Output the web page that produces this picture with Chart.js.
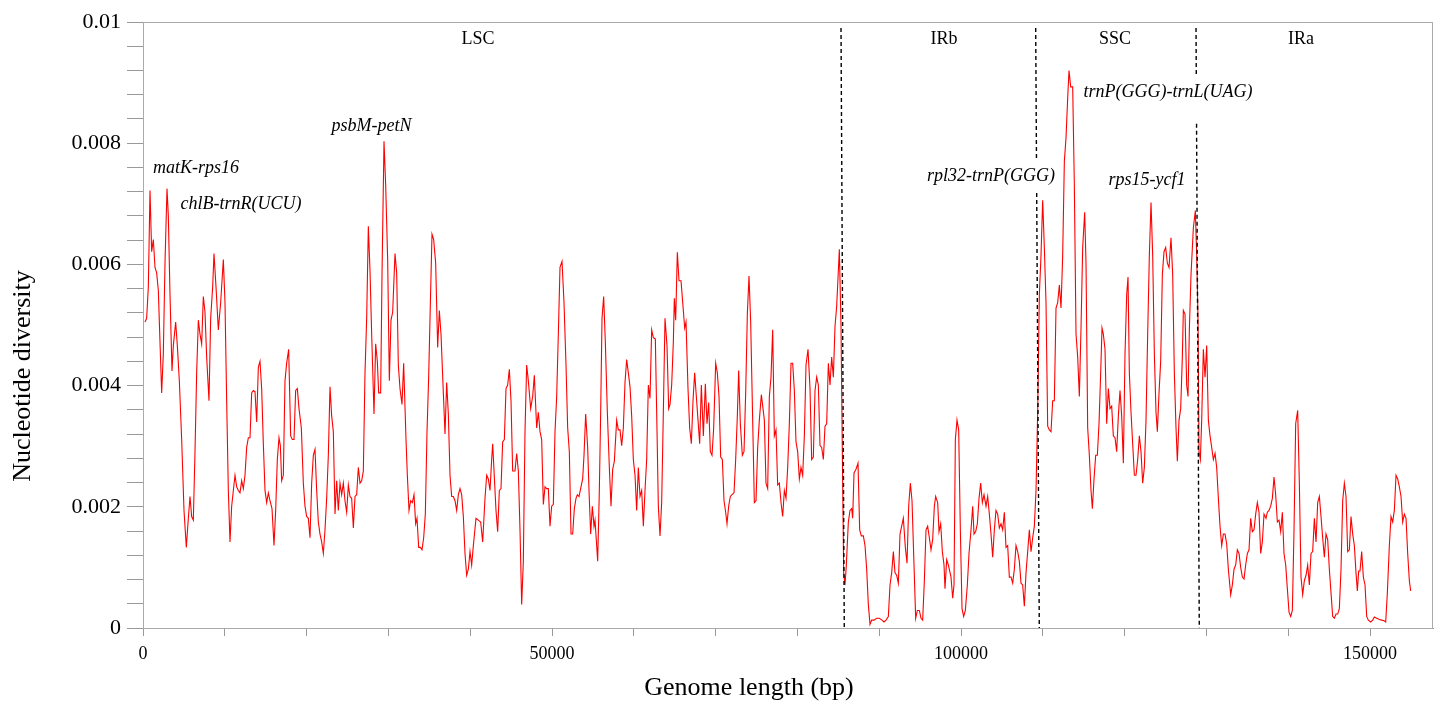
<!DOCTYPE html>
<html>
<head>
  <title>Nucleotide diversity</title>
  <style>
    body { margin: 0; background: #fff; }
    #wrap { width: 1439px; height: 702px; }
  </style>
</head>
<body>
  <div id="wrap"><canvas id="piChart" width="1439" height="702"></canvas></div>

  <script src="https://cdn.jsdelivr.net/npm/chart.js"></script>

  <script>
    // sliding window midpoints (bp)
    const positionBp = [
      244,448,652,856,1059,1263,1467,1671,1874,2078,
      2282,2486,2689,2934,3097,3301,3545,3708,3993,4197,
      4442,4727,5012,5297,5542,5746,5949,6153,6357,6561,
      6764,6968,7172,7376,7579,7783,8068,8272,8517,8680,
      8924,9209,9495,9821,10024,10228,10432,10636,10839,11043,
      11247,11451,11654,11858,12062,12266,12469,12673,12877,13081,
      13284,13488,13692,13896,14099,14303,14507,14711,14914,15118,
      15322,15526,15770,16015,16218,16422,16626,16789,16952,17156,
      17359,17563,17808,18052,18256,18460,18663,18867,19071,19356,
      19601,19804,
      20008,20212,20416,20619,20823,21027,21231,21434,21638,21842,
      22046,22249,22453,22657,22861,23064,23268,23472,23676,23879,
      24083,24287,24491,24694,24898,25102,25306,25509,25713,25917,
      26121,26324,26528,26732,26936,27139,27343,27547,27751,27954,
      28239,28443,28647,28810,29055,29218,29462,29666,29910,30114,
      30318,30522,30807,31011,31214,31418,31663,31866,32152,32315,
      32518,32722,32926,33130,33333,33496,33700,33904,34108,34311,
      34515,34719,34923,35126,35330,35534,35778,36023,36227,36430,
      36716,36919,37123,37327,37531,37734,37938,38142,38346,38549,
      38753,38957,39161,39364,
      39568,39772,39976,40179,40383,40709,40994,41280,41524,41809,
      42013,42217,42421,42624,42747,42950,43154,43358,43562,43765,
      43969,44173,44377,44580,44784,44988,45192,45477,45681,45884,
      46088,46292,46496,46699,46903,47107,47392,47637,47840,48126,
      48329,48533,48737,48941,49144,49348,49552,49756,49959,50163,
      50367,50571,50774,50978,51223,51467,51712,51915,52119,52323,
      52527,52730,52934,53097,53301,53545,53749,53912,54116,54360,
      54523,54727,54931,55135,55257,55461,55583,55787,55950,56113,
      56316,56520,56765,57009,57213,57417,57620,57906,58109,58313,
      58517,58721,58924,
      59128,59332,59536,59739,59943,60147,60351,60554,60758,60962,
      61166,61369,61573,61777,61981,62184,62388,62633,62796,62999,
      63203,63407,63611,63814,64059,64263,64426,64629,64833,64955,
      65118,65322,65526,65770,66056,66219,66382,66626,66830,67034,
      67237,67441,67645,67849,68052,68256,68501,68745,68949,69153,
      69356,69560,69764,70008,70212,70416,70620,70823,71027,71231,
      71394,71598,71801,72005,72250,72453,72657,72820,73024,73268,
      73472,73676,73880,74083,74287,74532,74735,74939,75143,75347,
      75591,75795,75958,76162,76365,76569,76773,76977,77180,77384,
      77588,77792,77995,78199,78403,
      78607,78810,79014,79218,79422,79625,79829,80033,80237,80440,
      80644,80848,81052,81296,81541,81744,81948,82152,82356,82559,
      82763,82967,83171,83374,83578,83782,83986,84189,84393,84597,
      84801,85004,85127,85330,85493,85656,85819,85982,86227,86431,
      86634,86757,86920,87164,87409,87612,87816,88061,88264,88468,
      88672,88876,89079,89364,89690,90017,90343,90587,90832,91117,
      91321,91524,91728,91932,92136,92339,92543,92747,92951,93195,
      93399,93603,93806,94010,94255,94458,94662,94907,95110,95314,
      95518,95722,95925,96129,96333,96537,96740,96903,97148,97311,
      97515,97719,97922,
      98044,98248,98452,98778,98982,99145,99308,99511,99715,99919,
      100123,100326,100530,100775,100978,101223,101427,101590,101793,101997,
      102201,102405,102608,102812,103057,103260,103464,103668,103872,104075,
      104279,104483,104687,104890,105094,105298,105502,105705,105909,106113,
      106317,106520,106724,106928,107132,107335,107539,107743,107947,108150,
      108354,108558,108762,108965,109169,109373,109577,109780,109984,110188,
      110392,110595,110799,111003,111207,111410,111614,111818,112022,112225,
      112429,112633,112837,113040,113203,113407,113652,113855,114059,114263,
      114467,114670,114874,115119,115282,115486,115689,115893,116056,116260,
      116464,116667,116871,117075,117238,117401,117604,
      117808,118012,118216,118419,118623,118827,119031,119234,119438,119642,
      119846,120049,120253,120416,120579,120783,120987,121190,121394,121598,
      121802,122005,122209,122413,122617,122820,123024,123228,123432,123635,
      123839,124002,124206,124410,124613,124817,125021,125225,125428,125673,
      125877,126080,126284,126447,126651,126855,127058,127181,127384,127588,
      127751,127914,128118,128403,128648,128811,128974,129096,129260,129423,
      129626,129830,130034,130238,130441,130645,130849,131053,131256,131460,
      131664,131868,132071,132275,132478,132682,132967,133171,133375,133578,
      133782,133986,134190,134393,134597,134801,135005,135208,135412,135616,
      135820,136023,136227,136431,136634,136838,137042,
      137287,137450,137653,137857,138061,138265,138468,138672,138876,139080,
      139283,139487,139691,139895,140098,140302,140506,140710,140913,141158,
      141362,141565,141769,141973,142177,142380,142584,142788,142992,143195,
      143399,143603,143807,144010,144214,144418,144622,144825,145029,145233,
      145437,145640,145844,146048,146252,146455,146659,146863,147067,147270,
      147474,147678,147882,148085,148289,148452,148615,148778,148982,149186,
      149389,149593,149797,150082,150327,150530,150816,151142,151427,151712,
      151916,152120,152364,152568,152772,152975,153179,153383,153587,153790,
      153994,154198,154402,154605,154809,154972
    ];

    // nucleotide diversity (Pi) in units of 0.001, same order as positionBp
    const piE3 = [
      5.05,5.11,5.63,7.22,6.21,6.41,5.95,5.86,5.57,4.72,
      3.88,4.53,6.02,7.25,6.80,5.50,4.24,4.66,5.05,4.66,
      4.08,3.11,1.94,1.33,1.81,2.17,1.84,1.78,2.91,4.21,
      5.08,4.85,4.69,5.47,5.21,4.47,3.75,5.11,5.63,6.18,
      5.63,4.92,5.37,6.08,5.37,3.75,2.27,1.42,2.01,2.27,
      2.52,2.33,2.27,2.23,2.43,2.30,2.52,2.98,3.14,3.14,
      3.88,3.92,3.90,3.40,4.30,4.40,3.95,3.04,2.27,2.07,
      2.23,2.10,1.97,1.36,1.94,2.78,3.14,3.01,2.43,2.52,
      4.08,4.37,4.60,3.17,3.11,3.11,3.92,3.95,3.62,3.30,
      2.39,2.01,
      1.84,1.81,1.49,2.39,2.85,2.95,2.27,1.75,1.55,1.42,
      1.23,1.62,2.14,2.85,3.98,3.50,3.24,1.88,2.43,1.94,
      2.39,2.20,2.39,2.10,1.91,2.36,2.17,2.14,1.65,2.17,
      2.20,2.65,2.39,2.43,2.59,4.21,5.11,6.63,5.89,4.85,
      3.53,4.69,4.40,3.88,3.88,5.83,8.03,7.31,6.08,4.08,
      5.08,5.21,6.18,5.86,4.34,3.95,3.69,4.37,3.11,2.52,
      1.94,2.10,2.07,2.20,1.72,1.81,1.33,1.33,1.29,1.49,
      1.88,3.24,4.14,5.34,6.50,6.41,6.02,4.63,5.24,4.85,
      3.88,3.20,4.05,3.53,2.52,2.17,2.17,2.10,1.94,2.20,
      2.30,2.20,1.84,1.23,
      0.87,0.97,1.26,1.04,1.36,1.81,1.78,1.75,1.42,2.14,
      2.52,2.46,2.27,2.78,3.04,2.49,1.94,1.59,2.27,2.30,
      3.07,3.11,3.95,4.01,4.27,3.75,2.59,2.59,2.88,2.59,
      1.62,0.39,1.10,3.24,4.34,4.08,3.62,3.82,4.17,3.30,
      3.56,3.24,3.11,2.04,2.33,2.30,2.30,1.68,2.01,2.04,
      3.24,3.82,4.85,5.95,6.05,5.37,4.34,3.30,2.91,1.55,
      1.55,1.97,2.14,2.20,2.17,2.33,2.46,2.85,3.53,2.98,
      2.27,1.55,2.01,1.68,1.78,1.36,1.10,2.27,3.56,5.11,
      5.47,4.72,3.56,2.65,2.01,2.62,2.75,3.43,3.27,3.27,
      3.01,3.30,4.05,
      4.43,4.21,3.98,3.50,2.78,2.52,1.94,2.65,2.17,2.27,
      1.68,2.27,2.78,4.01,3.79,4.92,4.79,4.77,3.56,2.01,
      1.52,2.07,3.56,5.11,4.66,3.62,3.69,4.01,4.72,5.44,
      5.08,6.20,5.73,5.73,5.24,4.95,5.05,3.95,3.30,3.04,
      3.75,4.21,3.82,3.43,3.04,4.01,3.17,4.03,3.37,3.72,
      2.91,2.85,3.30,4.37,4.21,3.82,2.82,2.78,2.10,1.91,
      1.72,2.01,2.17,2.20,2.23,2.78,3.50,4.25,3.37,2.85,
      2.91,3.88,5.18,5.81,5.05,3.43,2.07,2.10,2.98,3.43,
      3.85,3.62,3.43,2.39,2.30,3.82,4.14,4.92,3.17,3.27,
      2.36,2.39,2.07,1.84,2.27,
      2.14,2.65,3.37,4.37,4.37,3.92,3.07,2.91,2.46,2.65,
      2.52,3.17,4.34,4.60,3.95,2.78,2.82,3.92,4.14,4.01,
      3.01,2.98,2.78,3.33,3.37,4.37,4.01,4.47,4.14,4.98,
      5.31,5.89,6.25,4.98,2.91,0.91,0.71,1.04,1.75,1.94,
      1.97,1.81,2.56,2.62,2.72,1.62,1.52,1.52,1.36,0.97,
      0.39,0.06,0.13,0.13,0.16,0.16,0.13,0.10,0.13,0.19,
      0.71,0.91,1.26,0.91,0.87,0.74,1.55,1.68,1.81,1.33,
      1.07,2.01,2.39,2.10,1.04,0.16,0.29,0.29,0.16,0.13,
      0.78,1.62,1.68,1.49,1.29,1.46,2.01,2.17,2.07,1.59,
      1.72,1.26,1.04,
      0.65,1.13,1.04,0.84,0.49,0.71,3.11,3.43,3.27,1.62,
      0.32,0.19,0.29,0.71,1.23,1.62,2.01,1.55,1.59,1.72,
      2.14,2.39,2.07,2.20,2.01,2.17,1.88,1.55,1.17,1.62,
      1.94,1.88,1.65,1.72,1.62,1.91,1.33,1.36,0.84,0.84,
      0.74,0.97,1.36,1.26,1.10,0.74,0.71,0.36,0.91,1.26,
      1.62,1.26,1.49,1.68,2.27,3.56,5.50,6.15,7.06,6.28,
      5.37,3.33,3.27,3.24,3.75,3.75,5.28,5.37,5.66,5.28,
      6.15,7.70,8.09,8.74,9.20,8.93,8.93,7.31,4.85,4.47,
      3.82,4.95,6.28,6.86,6.02,3.30,2.85,2.27,1.97,2.46,
      2.85,2.85,3.37,4.21,4.95,4.85,4.60,
      3.37,3.95,3.62,3.66,3.17,3.14,2.91,3.50,3.92,3.50,
      2.72,4.53,5.50,5.79,4.21,3.56,3.04,2.52,2.52,2.78,
      3.17,2.91,2.39,2.65,3.43,4.85,6.15,7.02,6.15,4.53,
      3.56,3.24,3.88,4.40,5.83,6.21,6.28,6.02,5.95,6.44,
      5.83,4.21,3.30,2.75,3.43,3.62,4.47,5.24,5.18,4.01,
      3.82,4.92,5.83,6.60,6.89,6.15,5.11,2.91,2.78,3.43,
      4.60,4.14,4.66,3.43,3.17,2.98,2.78,2.88,2.65,2.14,
      1.68,1.36,1.55,1.55,1.39,0.97,0.55,0.71,0.97,1.04,
      1.29,1.23,1.00,0.84,0.81,1.04,1.23,1.29,1.81,1.59,
      1.62,1.88,2.07,1.91,1.23,1.42,1.88,
      1.81,1.91,1.94,2.01,2.14,2.49,2.20,1.75,1.78,1.59,
      1.91,1.23,1.04,0.65,0.26,0.19,0.29,1.62,3.37,3.59,
      2.39,0.84,0.55,0.78,0.87,1.04,0.71,1.23,1.26,1.81,
      1.42,2.07,2.17,1.84,1.49,1.17,1.55,1.46,0.97,0.58,
      0.19,0.16,0.23,0.23,0.32,0.97,2.10,2.39,2.17,1.26,
      1.29,1.84,1.55,1.36,0.91,0.61,0.94,0.94,1.26,0.84,
      0.71,0.19,0.13,0.10,0.13,0.18,0.16,0.14,0.13,0.12,
      0.10,0.58,1.36,1.84,1.75,1.94,2.52,2.46,2.33,2.17,
      1.75,1.88,1.81,1.23,0.78,0.61
    ];

    // x axis tick marks (bp) and the ones that carry a label
    const xTickBp = [0, 10000, 20000, 30000, 40000, 50000, 60000, 70000, 80000,
      90000, 100000, 110000, 120000, 130000, 140000, 150000];
    const xLabelBp = [0, 50000, 100000, 150000];

    // region borders (dashed lines): position at top and at bottom of the plot
    const boundaryTopBp = [85330, 109130, 128730];
    const boundaryBottomBp = [85730, 109570, 129130];
    const boundaryTopPi = 0.0099;
    const boundaryGaps = [[], [0.00771, 0.00718], [0.00913, 0.00832]];

    const regionNames = ['LSC', 'IRb', 'SSC', 'IRa'];
    const regionAnchorBp = [40950, 97920, 118830, 141565];
    const regionAnchorPi = 0.00972;

    const geneNames = ['matK-rps16', 'chlB-trnR(UCU)', 'psbM-petN', 'rpl32-trnP(GGG)', 'trnP(GGG)-trnL(UAG)', 'rps15-ycf1'];
    const geneAnchorBp = [6480, 11980, 27930, 103670, 125300, 122740];
    const geneAnchorPi = [0.00759, 0.00700, 0.00828, 0.00746, 0.00884, 0.00739];

    const serif = '"Liberation Serif", "Times New Roman", serif';

    if (positionBp.length !== piE3.length) console.error('length mismatch', positionBp.length, piE3.length);

    const piPoints = positionBp.map((x, i) => ({ x: x, y: piE3[i] / 1000 }));

    function boundaryPoints(i) {
      const t = boundaryTopBp[i], b = boundaryBottomBp[i];
      const at = y => ({ x: t + (b - t) * (boundaryTopPi - y) / boundaryTopPi, y: y });
      const pts = [at(boundaryTopPi)];
      const g = boundaryGaps[i];
      if (g.length) {
        pts.push(at(g[0]), { x: at(g[0]).x, y: null }, at(g[1]));
      }
      pts.push(at(0));
      return pts;
    }

    const boundarySets = boundaryTopBp.map((_, i) => ({
      data: boundaryPoints(i),
      borderColor: '#000',
      borderWidth: 1.4,
      borderDash: [4, 3],
      pointRadius: 0,
      spanGaps: false,
      tension: 0
    }));

    const annotate = {
      id: 'annotate',
      afterDraw(chart) {
        const ctx = chart.ctx;
        const a = chart.chartArea;
        const xs = chart.scales.x, ys = chart.scales.y;
        ctx.save();
        // frame
        ctx.strokeStyle = '#aaa';
        ctx.lineWidth = 1;
        ctx.strokeRect(a.left + 0.5, a.top + 0.5, a.right - a.left - 1, a.bottom - a.top);

        ctx.fillStyle = '#000';
        ctx.textAlign = 'center';
        ctx.textBaseline = 'middle';
        ctx.font = '18px ' + serif;
        regionNames.forEach((n, i) => {
          ctx.fillText(n, xs.getPixelForValue(regionAnchorBp[i]), ys.getPixelForValue(regionAnchorPi));
        });

        ctx.font = 'italic 18px ' + serif;
        geneNames.forEach((n, i) => {
          ctx.fillText(n, xs.getPixelForValue(geneAnchorBp[i]), ys.getPixelForValue(geneAnchorPi[i]));
        });

        // axis titles
        ctx.font = '26px ' + serif;
        ctx.fillText('Genome length (bp)', 749, 688);
        ctx.translate(23, 376);
        ctx.rotate(-Math.PI / 2);
        ctx.fillText('Nucleotide diversity', 0, 0);
        ctx.restore();
      }
    };

    new Chart(document.getElementById('piChart'), {
      type: 'line',
      data: {
        datasets: boundarySets.concat([{
          data: piPoints,
          borderColor: '#ff0000',
          borderWidth: 1.1,
          pointRadius: 0,
          tension: 0
        }])
      },
      options: {
        responsive: false,
        animation: false,
        devicePixelRatio: 1,
        layout: { padding: { top: 22, right: 6, left: 0, bottom: 0 } },
        plugins: { legend: { display: false }, tooltip: { enabled: false } },
        scales: {
          x: {
            type: 'linear',
            min: 0,
            max: 157700,
            grid: { drawOnChartArea: false, drawTicks: true, tickLength: 8, color: '#999' },
            border: { display: true, color: '#999' },
            afterBuildTicks: s => { s.ticks = xTickBp.map(v => ({ value: v })); },
            ticks: {
              autoSkip: false,
              maxRotation: 0,
              minRotation: 0,
              padding: 7,
              color: '#000',
              font: { family: serif, size: 18 },
              callback: v => (xLabelBp.includes(v) ? String(v) : '')
            },
            afterFit: s => { s.height = 74; }
          },
          y: {
            min: 0,
            max: 0.01,
            grid: { drawOnChartArea: false, drawTicks: true, tickLength: 16, color: '#999' },
            border: { display: true, color: '#999' },
            ticks: {
              stepSize: 0.0004,
              autoSkip: false,
              padding: 6,
              color: '#000',
              font: { family: serif, size: 22 },
              callback: v => (Math.round(v / 0.0004) % 5 === 0 ? String(+v.toFixed(4)) : '')
            },
            afterFit: s => { s.width = 143; }
          }
        }
      },
      plugins: [annotate]
    });
  </script>
</body>
</html>
